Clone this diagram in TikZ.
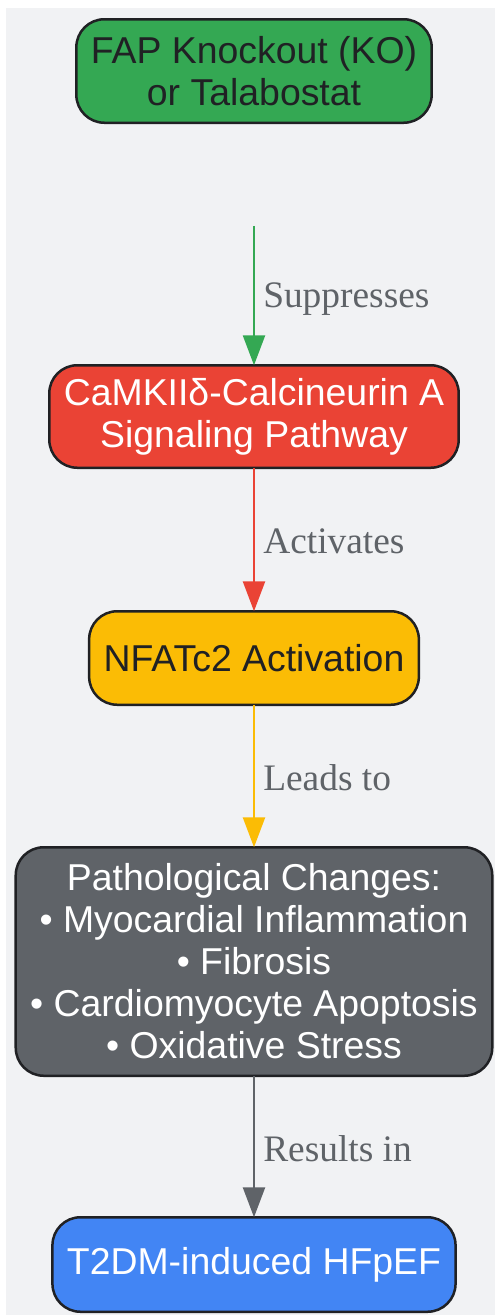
\documentclass[tikz,border=0pt]{standalone}
\usepackage{fontspec}
\setmainfont{Liberation Sans}
\newfontfamily\edgefont{Liberation Serif}
\usepackage{xcolor}
\usepackage{tikz}
\usetikzlibrary{arrows.meta,positioning}
\definecolor{bgGray}{HTML}{F1F2F4}
\definecolor{fapGreen}{HTML}{34A853}
\definecolor{camRed}{HTML}{EA4335}
\definecolor{nfatYellow}{HTML}{FBBC05}
\definecolor{pathGray}{HTML}{5F6368}
\definecolor{hfBlue}{HTML}{4285F4}
\definecolor{inkDark}{HTML}{202124}
\tikzset{
  >={Triangle[length=30pt,width=22pt]},
  block/.style={draw=inkDark, line width=2.5pt, rectangle, rounded corners=28pt, align=center, inner xsep=14.5pt, inner ysep=6pt, outer sep=0pt, minimum height=93.5pt, font=\fontsize{37.4}{42}\selectfont},
  conn/.style={->, line width=2.5pt},
  lbl/.style={right, inner sep=0pt, xshift=8pt, yshift=-2pt, text=pathGray, font=\edgefont\fontsize{37.4}{44}\selectfont},
}

\begin{document}
\begin{tikzpicture}
  \useasboundingbox (0pt,0pt) rectangle (495pt,-1315pt);
  \fill[bgGray] (6pt,-8pt) rectangle (495pt,-1315pt);
  \node[block, fill=fapGreen, text=inkDark, minimum height=103.5pt] (fap) at (254pt,-71pt) {FAP Knockout (KO)\\or Talabostat};
  \node[block, fill=camRed, text=white, minimum height=102.5pt, below=242.5pt of fap] (camk) {CaMKIIδ-Calcineurin A\\Signaling Pathway};
  \node[block, fill=nfatYellow, text=inkDark, below=143.5pt of camk] (nfat) {NFATc2 Activation};
  \node[block, fill=pathGray, text=white, minimum height=228.5pt, below=142.5pt of nfat] (patho) {Pathological Changes:\\• Myocardial Inflammation\\• Fibrosis\\• Cardiomyocyte Apoptosis\\• Oxidative Stress};
  \node[block, fill=hfBlue, text=white, minimum height=94.5pt, below=141.5pt of patho] (hfpef) {T2DM-induced HFpEF};
  \draw[conn, fapGreen, shorten <=103pt] (fap) -- node[lbl, pos=0.72] {Suppresses} (camk);
  \draw[conn, camRed] (camk) -- node[lbl] {Activates} (nfat);
  \draw[conn, nfatYellow] (nfat) -- node[lbl] {Leads to} (patho);
  \draw[conn, pathGray] (patho) -- node[lbl] {Results in} (hfpef);
\end{tikzpicture}
\end{document}
